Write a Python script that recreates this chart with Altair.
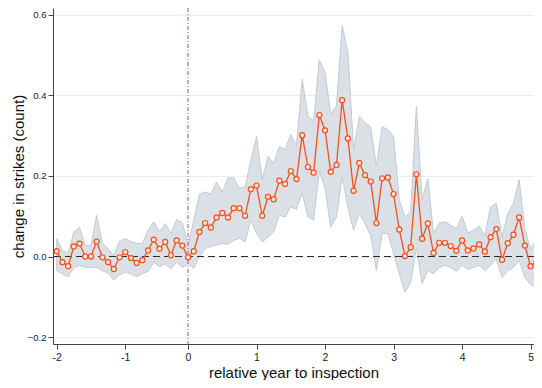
import altair as alt
import pandas as pd

# relative month (0 = inspection); tick labels are in years
months = list(range(-23, 62))

est = [0.013, -0.014, -0.024, 0.025, 0.032, 0.000, 0.000, 0.037, -0.002, -0.014,
       -0.031, -0.002, 0.011, -0.004, -0.016, -0.009, 0.015, 0.042, 0.019, 0.036,
       0.003, 0.040, 0.027, -0.002, 0.013, 0.061, 0.083, 0.072, 0.097, 0.108,
       0.097, 0.120, 0.120, 0.101, 0.167, 0.176, 0.101, 0.148, 0.142, 0.188,
       0.180, 0.212, 0.192, 0.301, 0.222, 0.208, 0.351, 0.313, 0.210, 0.227,
       0.388, 0.293, 0.163, 0.232, 0.202, 0.186, 0.083, 0.194, 0.196, 0.155,
       0.067, 0.001, 0.023, 0.204, 0.044, 0.082, 0.009, 0.034, 0.034, 0.026,
       0.014, 0.040, 0.015, 0.020, 0.030, 0.012, 0.048, 0.068, -0.008, 0.033,
       0.054, 0.097, 0.027, -0.024, -0.016]

upper = [0.044, 0.015, 0.007, 0.061, 0.072, 0.027, 0.027, 0.102, 0.033, 0.020,
         0.002, 0.038, 0.044, 0.037, 0.032, 0.033, 0.065, 0.086, 0.061, 0.082,
         0.057, 0.092, 0.083, 0.030, 0.090, 0.155, 0.160, 0.155, 0.185, 0.160,
         0.195, 0.195, 0.170, 0.173, 0.240, 0.298, 0.190, 0.248, 0.232, 0.273,
         0.265, 0.302, 0.275, 0.440, 0.348, 0.336, 0.488, 0.457, 0.353, 0.373,
         0.573, 0.507, 0.265, 0.347, 0.332, 0.322, 0.223, 0.322, 0.315, 0.298,
         0.140, 0.098, 0.111, 0.373, 0.140, 0.194, 0.057, 0.083, 0.086, 0.078,
         0.069, 0.100, 0.058, 0.065, 0.075, 0.052, 0.123, 0.132, 0.048, 0.107,
         0.132, 0.190, 0.069, 0.019, 0.040]

lower = [-0.035, -0.043, -0.050, -0.027, -0.022, -0.027, -0.027, -0.027, -0.035, -0.042,
         -0.058, -0.045, -0.039, -0.043, -0.050, -0.042, -0.037, -0.014, -0.025, -0.018,
         -0.031, -0.014, -0.027, -0.018, -0.030, 0.000, 0.020, 0.025, 0.028, 0.033,
         0.030, 0.040, 0.045, 0.036, 0.090, 0.057, 0.036, 0.048, 0.061, 0.102,
         0.098, 0.123, 0.117, 0.157, 0.098, 0.090, 0.211, 0.169, 0.073, 0.098,
         0.198, 0.123, 0.065, 0.107, 0.082, 0.052, -0.035, 0.057, 0.057, 0.007,
         -0.043, -0.089, -0.064, 0.023, -0.068, -0.035, -0.043, -0.027, -0.022, -0.027,
         -0.037, -0.022, -0.032, -0.027, -0.022, -0.035, -0.022, -0.006, -0.052, -0.035,
         -0.027, -0.010, -0.052, -0.070, -0.075]

x_tick_values = [-23, -11, 0, 12, 24, 36, 48, 60]
x_tick_labels = ["-2", "-1", "0", "1", "2", "3", "4", "5"]
y_tick_values = [-0.2, 0.0, 0.2, 0.4, 0.6]

df = pd.DataFrame({"month": months, "est": est, "lo": lower, "hi": upper})

label_expr = "[{}][indexof([{}], datum.value)]".format(
    ",".join("'" + s + "'" for s in x_tick_labels),
    ",".join(str(v) for v in x_tick_values),
)

FONT = "Liberation Sans"

x_scale = alt.Scale(domain=[-23.65, 60.6], nice=False, zero=False)
y_scale = alt.Scale(domain=[-0.2171, 0.6166], nice=False, zero=False)

x_enc = alt.X(
    "month:Q",
    scale=x_scale,
    axis=alt.Axis(
        values=x_tick_values,
        labelExpr=label_expr,
        title="relative year to inspection",
        grid=False,
        tickSize=5,
        labelPadding=3,
        labelFontSize=10.5,
        titleFontSize=15,
        titlePadding=3,
        labelFlush=False,
    ),
)

base = alt.Chart(df)

band = base.mark_area(
    fill="#dae0e6", stroke="#c2cbd3", strokeWidth=1, opacity=1, clip=True
).encode(
    x=x_enc,
    y=alt.Y(
        "lo:Q",
        scale=y_scale,
        axis=alt.Axis(
            values=y_tick_values,
            format=".1f",
            title="change in strikes (count)",
            grid=True,
            gridColor="#e9eef1",
            gridWidth=1,
            tickSize=5,
            labelPadding=2,
            labelFontSize=9.5,
            titleFontSize=15,
            titlePadding=1,
        ),
    ),
    y2="hi:Q",
)

zero_rule = alt.Chart(pd.DataFrame({"y": [0.0]})).mark_rule(
    color="#2b2b2b", strokeDash=[7, 4], strokeWidth=1.2
).encode(y=alt.Y("y:Q", scale=y_scale))

event_rule = alt.Chart(pd.DataFrame({"x": [0]})).mark_rule(
    color="#b07578", strokeDash=[4, 2, 1, 2], strokeWidth=1.2
).encode(x=alt.X("x:Q", scale=x_scale))

line = base.mark_line(color="#f0521f", strokeWidth=1.3, clip=True).encode(
    x=alt.X("month:Q", scale=x_scale), y=alt.Y("est:Q", scale=y_scale)
)

points = base.mark_point(
    shape="circle", size=26, filled=True, fill="#fde3d8", stroke="#ef5220",
    strokeWidth=1.2, opacity=1, clip=True
).encode(x=alt.X("month:Q", scale=x_scale), y=alt.Y("est:Q", scale=y_scale))

chart = alt.layer(band, zero_rule, event_rule, line, points).properties(
    width=481,
    height=336,
    autosize=alt.AutoSizeParams(type="none"),
    padding={"left": 45, "top": 0, "right": 0, "bottom": 36},
).configure_view(stroke=None).configure_axis(
    domainColor="#444444",
    tickColor="#444444",
    labelColor="#222222",
    titleColor="#111111",
    labelFont=FONT,
    titleFont=FONT,
    titleFontWeight="normal",
)

chart.save("out.html", embed_options={"renderer": "svg", "actions": False})
